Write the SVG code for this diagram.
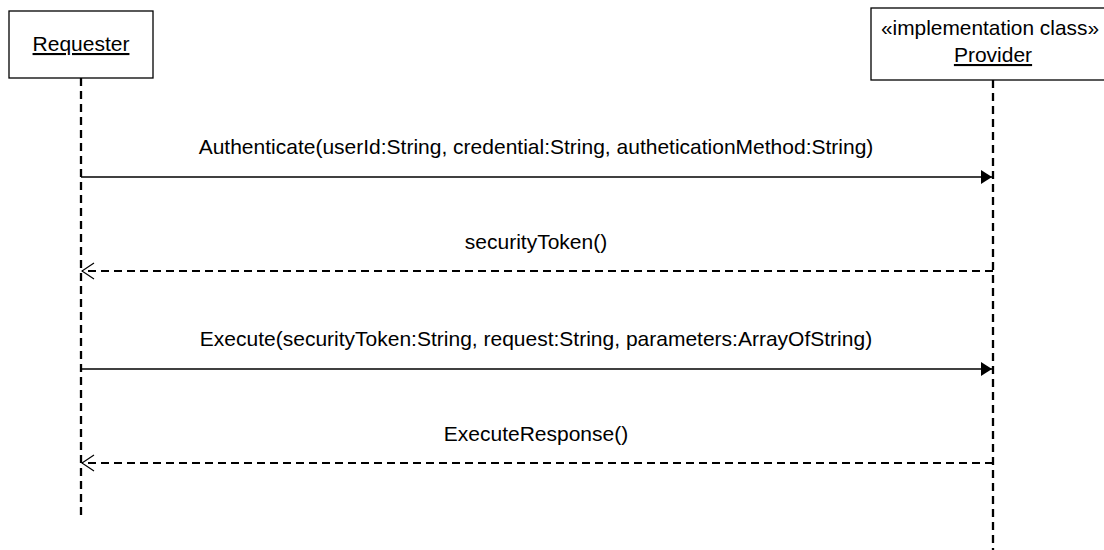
<svg xmlns="http://www.w3.org/2000/svg" width="1104" height="550" viewBox="0 0 1104 550">
<defs>
<style>
text{font-family:"Liberation Sans",Arial,sans-serif;font-size:21px;fill:#000;text-anchor:middle}
.box{fill:#fff;stroke:#000;stroke-width:1.3}
.life{stroke:#000;stroke-width:2.3;stroke-dasharray:8 5;fill:none}
.call{stroke:#000;stroke-width:1.3;fill:none}
.ret{stroke:#000;stroke-width:2.2;stroke-dasharray:8 5;fill:none}
</style>
<marker id="filled" markerWidth="12" markerHeight="14" refX="11" refY="7" orient="auto" markerUnits="userSpaceOnUse">
<path d="M0,0 L11,7 L0,14 Z" fill="#000"/>
</marker>
<marker id="open" markerWidth="14" markerHeight="18" refX="13" refY="9" orient="auto" markerUnits="userSpaceOnUse">
<path d="M1,1 L13,9 L1,17" fill="none" stroke="#000" stroke-width="1.2"/>
</marker>
</defs>
<g id="requester">
<rect class="box" x="9" y="11" width="144" height="67"/>
<text x="81" y="51" text-decoration="underline">Requester</text>
<line class="life" x1="81" y1="78" x2="81" y2="516"/>
</g>
<g id="provider">
<rect class="box" x="871" y="8" width="250" height="72"/>
<text x="990" y="35" textLength="218" lengthAdjust="spacingAndGlyphs">«implementation class»</text>
<text x="993" y="62" text-decoration="underline">Provider</text>
<line class="life" x1="993" y1="80" x2="993" y2="550"/>
</g>
<g id="connectors">
<line class="call" x1="81" y1="177" x2="992" y2="177" marker-end="url(#filled)"/>
<text x="536" y="154">Authenticate(userId:String, credential:String, autheticationMethod:String)</text>
<line class="ret" x1="993" y1="271" x2="82" y2="271" marker-end="url(#open)"/>
<text x="536" y="249">securityToken()</text>
<line class="call" x1="81" y1="369" x2="992" y2="369" marker-end="url(#filled)"/>
<text x="536" y="346">Execute(securityToken:String, request:String, parameters:ArrayOfString)</text>
<line class="ret" x1="993" y1="463" x2="82" y2="463" marker-end="url(#open)"/>
<text x="536" y="441">ExecuteResponse()</text>
</g>
</svg>
